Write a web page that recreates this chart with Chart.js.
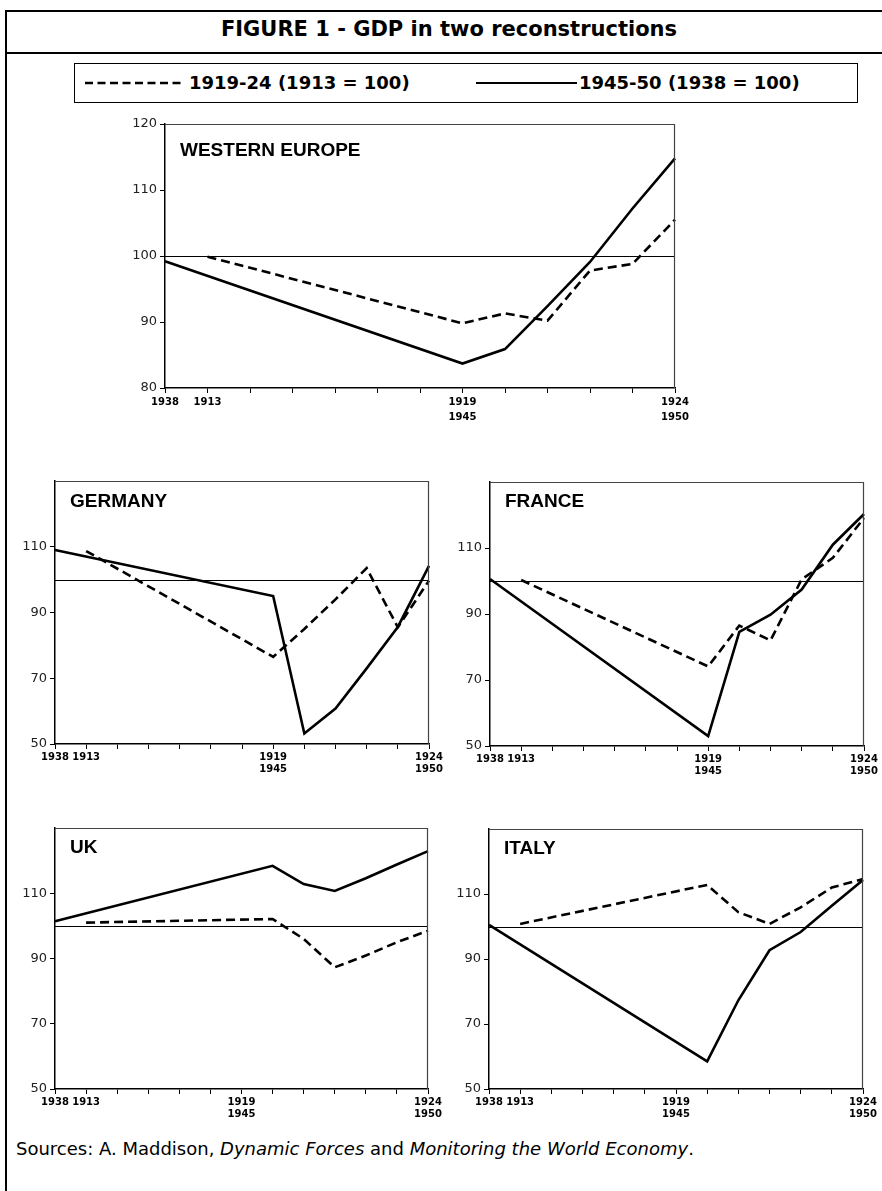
<!DOCTYPE html>
<html>
<head>
<meta charset="utf-8">
<script src="https://cdn.jsdelivr.net/npm/chart.js@4.4.1/dist/chart.umd.min.js"></script>
<style>
  body { margin:0; width:882px; height:1191px; background:#fff; position:relative; overflow:hidden;
         font-family:"DejaVu Sans", "Liberation Sans", sans-serif; color:#000; }
  .abs { position:absolute; }
  .rule { position:absolute; background:#000; }
  #title { position:absolute; left:16px; width:866px; top:19px; text-align:center;
           font-weight:bold; font-size:21px; line-height:21px; white-space:nowrap; }
  #legendBox { position:absolute; left:74px; top:63px; width:784px; height:40px;
               border:1.5px solid #000; box-sizing:border-box; }
  .legText { position:absolute; top:74px; font-weight:bold; font-size:18px; line-height:18px; white-space:nowrap; }
  #source { position:absolute; left:16px; top:1140px; font-size:18px; line-height:18px; white-space:nowrap; }
</style>
</head>
<body>
<div class="rule" style="left:5px; top:10px; width:877px; height:2px;"></div>
<div class="rule" style="left:5px; top:52px; width:877px; height:2px;"></div>
<div class="rule" style="left:5px; top:10px; width:2px; height:1181px;"></div>

<div id="title">FIGURE 1 - GDP in two reconstructions</div>

<div id="legendBox"></div>
<svg class="abs" style="left:85px; top:78px;" width="102" height="10">
  <line x1="0" y1="5" x2="100" y2="5" stroke="#000" stroke-width="2.4" stroke-dasharray="8 4.5"/>
</svg>
<div class="legText" style="left:189px;">1919-24 (1913 = 100)</div>
<svg class="abs" style="left:476px; top:78px;" width="102" height="10">
  <line x1="0" y1="5" x2="101" y2="5" stroke="#000" stroke-width="2"/>
</svg>
<div class="legText" style="left:579px;">1945-50 (1938 = 100)</div>

<div id="source">Sources: A. Maddison, <i>Dynamic Forces</i> and <i>Monitoring the World Economy</i>.</div>

<script>
// x positions 0..12: solid series 1938, (war years), 1945..1950; dashed series 1913, (war), 1919..1924
const labelsA = ['1938', '1913', '', '', '', '', '', ['1919', '1945'], '', '', '', '', ['1924', '1950']];
const labelsB = ['1938', '1913', '', '', '', '', ['1919', '1945'], '', '', '', '', '', ['1924', '1950']];

const weTicks = [80, 90, 100, 110, 120];
const weRange = [80, 120];
const smallTicks = [50, 70, 90, 110];
const smallRange = [50, 130];
const refValue = 100;

const weSolid   = [99.2, null, null, null, null, null, null, 83.7, 85.9, 92.4, 99.1, 107.2, 114.8];
const weDashed  = [null, 99.9, null, null, null, null, null, 89.8, 91.3, 90.2, 97.8, 98.8, 105.5];

const gerSolid  = [109, null, null, null, null, null, null, 95, 53.2, 60.8, 73, 85.6, 104.2];
const gerDashed = [null, 108.7, null, null, null, null, null, 76.5, 85, 94, 103.5, 85.5, 99.7];

const fraSolid  = [100.6, null, null, null, null, null, null, 53, 84.6, 89.8, 97.4, 111, 120.3];
const fraDashed = [null, 100.3, null, null, null, null, null, 74.1, 86.5, 82, 100.5, 107, 119.1];

const ukSolid   = [101.4, null, null, null, null, null, null, 118.4, 112.8, 110.7, 114.6, 118.8, 122.9];
const ukDashed  = [null, 101, null, null, null, null, null, 102.1, 96, 87.3, 90.9, 95, 98.5];

const itaSolid  = [100.5, null, null, null, null, null, null, 58.5, 77.3, 92.7, 98.3, 106.4, 114.3];
const itaDashed = [null, 100.8, null, null, null, null, null, 112.8, 104.4, 100.8, 105.9, 112, 114.6];

const PAD_L = 50, PAD_T = 10, PAD_R = 24, PAD_B = 42;

const panelFrame = {
  id: 'panelFrame',
  beforeDatasetsDraw(chart, args, opts) {
    const { ctx, chartArea: a, scales: { y } } = chart;
    ctx.save();
    const yy = Math.round(y.getPixelForValue(opts.ref)) + 0.5;
    ctx.strokeStyle = '#000';
    ctx.lineWidth = 1.2;
    ctx.beginPath();
    ctx.moveTo(a.left, yy);
    ctx.lineTo(a.right, yy);
    ctx.stroke();
    ctx.font = 'bold 19px "Liberation Sans", Arial, sans-serif';
    ctx.fillStyle = '#000';
    ctx.textBaseline = 'alphabetic';
    ctx.fillText(opts.name, a.left + opts.dx, a.top + opts.dy);
    ctx.restore();
  },
  afterDraw(chart) {
    const { ctx, chartArea: a } = chart;
    ctx.save();
    ctx.strokeStyle = '#444';
    ctx.lineWidth = 1.2;
    ctx.beginPath();
    ctx.moveTo(a.left, a.top + 0.5);
    ctx.lineTo(a.right - 0.5, a.top + 0.5);
    ctx.lineTo(a.right - 0.5, a.bottom);
    ctx.stroke();
    ctx.restore();
  }
};

function panel(box, name, nameDy, labels, solid, dashed, ticks, range, labelLH) {
  const w = box.w + PAD_L + PAD_R, h = box.h + PAD_T + PAD_B;
  const wrap = document.createElement('div');
  wrap.className = 'abs';
  wrap.style.left = (box.x - PAD_L) + 'px';
  wrap.style.top = (box.y - PAD_T) + 'px';
  const cv = document.createElement('canvas');
  cv.width = w; cv.height = h;
  cv.style.width = w + 'px'; cv.style.height = h + 'px';
  wrap.appendChild(cv);
  document.body.appendChild(wrap);

  new Chart(cv, {
    type: 'line',
    data: {
      labels: labels,
      datasets: [
        { label: '1919-24 (1913 = 100)', data: dashed, borderColor: '#000', borderWidth: 2.6,
          borderDash: [9, 5], pointRadius: 0, spanGaps: true, tension: 0, fill: false },
        { label: '1945-50 (1938 = 100)', data: solid, borderColor: '#000', borderWidth: 2.6,
          pointRadius: 0, spanGaps: true, tension: 0, fill: false }
      ]
    },
    options: {
      responsive: false,
      animation: false,
      devicePixelRatio: 1,
      layout: { padding: { left: 0, top: PAD_T, right: PAD_R, bottom: 0 } },
      plugins: {
        legend: { display: false },
        tooltip: { enabled: false },
        panelFrame: { name: name, dx: 15, dy: nameDy, ref: refValue }
      },
      scales: {
        x: {
          offset: false,
          grid: { display: true, drawOnChartArea: false, drawTicks: true, tickLength: 5, color: '#000' },
          border: { display: true, color: '#000', width: 1.5 },
          ticks: { autoSkip: false, maxRotation: 0, minRotation: 0, padding: 2, color: '#000',
                   font: { family: '"DejaVu Sans", sans-serif', size: 10, weight: 'bold', lineHeight: labelLH } },
          afterFit(s) { s.height = PAD_B; s.paddingLeft = 0; s.paddingRight = 0; }
        },
        y: {
          min: range[0], max: range[1],
          afterBuildTicks(s) { s.ticks = ticks.map(v => ({ value: v })); },
          grid: { display: true, drawOnChartArea: false, drawTicks: true, tickLength: 5, color: '#000' },
          border: { display: true, color: '#000', width: 1.5 },
          ticks: { padding: 3, color: '#222', font: { family: '"DejaVu Sans", sans-serif', size: 13 } },
          afterFit(s) { s.width = PAD_L; s.paddingTop = 0; s.paddingBottom = 0; }
        }
      }
    },
    plugins: [panelFrame]
  });
}

panel({ x: 165, y: 124, w: 510, h: 264 }, 'WESTERN EUROPE', 32, labelsA, weSolid, weDashed, weTicks, weRange, 1.5);
panel({ x: 55,  y: 481, w: 374, h: 263 }, 'GERMANY', 26, labelsA, gerSolid, gerDashed, smallTicks, smallRange, 1.25);
panel({ x: 490, y: 482, w: 374, h: 264 }, 'FRANCE',  25, labelsA, fraSolid, fraDashed, smallTicks, smallRange, 1.25);
panel({ x: 55,  y: 828, w: 373, h: 261 }, 'UK',      25, labelsB, ukSolid, ukDashed, smallTicks, smallRange, 1.25);
panel({ x: 489, y: 829, w: 374, h: 260 }, 'ITALY',   25, labelsB, itaSolid, itaDashed, smallTicks, smallRange, 1.25);
</script>
</body>
</html>
